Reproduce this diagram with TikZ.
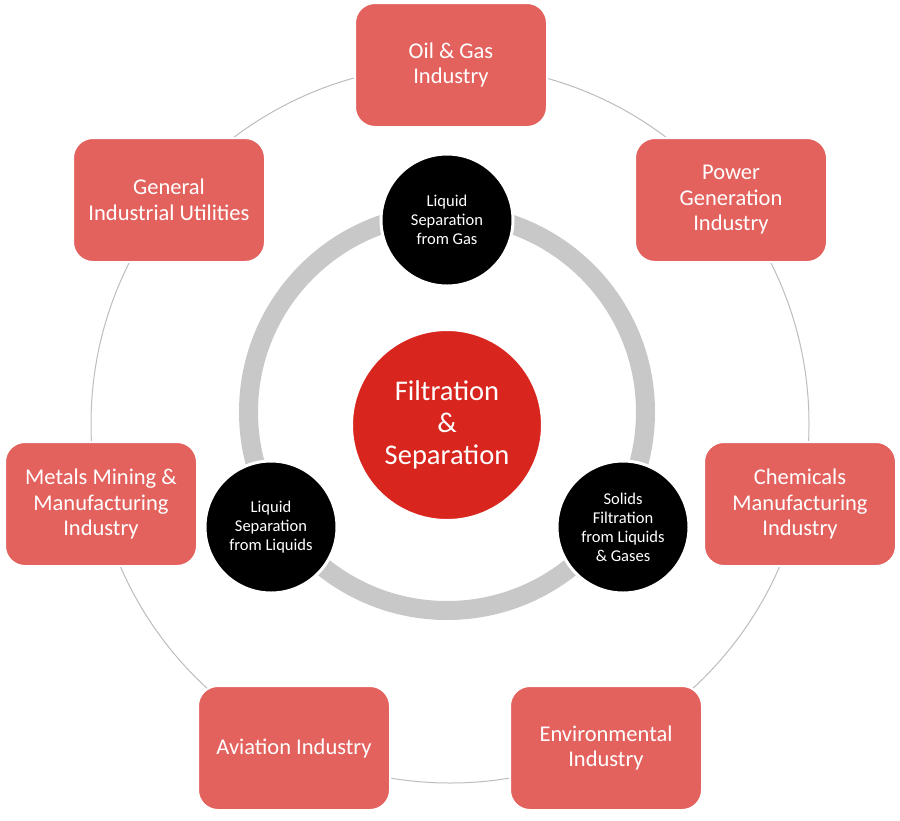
\documentclass[tikz,border=0pt]{standalone}
\usepackage{fontspec}
\setmainfont{Carlito}
\usetikzlibrary{positioning}
\definecolor{boxred}{HTML}{E3625E}
\definecolor{corered}{HTML}{D8261E}
\definecolor{ringgray}{HTML}{C8C8C8}
\definecolor{linegray}{HTML}{BDBDBD}

\begin{document}
\begin{tikzpicture}[x=1pt,y=-1pt,
    ind/.style={rectangle, rounded corners=20pt, fill=boxred, draw=white, line width=2pt,
      minimum width=192pt, minimum height=124pt, inner sep=0pt, align=center, text=white,
      font=\fontsize{22.5}{25.5}\selectfont},
    app/.style={circle, fill=black, draw=white, line width=3pt, minimum size=132pt,
      inner sep=0pt, align=center, text=white, font=\fontsize{16.5}{19}\selectfont},
    core/.style={circle, fill=corered, draw=white, line width=2pt, minimum size=190pt,
      inner sep=0pt, align=center, text=white, font=\fontsize{28.5}{32}\selectfont}]
  \useasboundingbox[fill=white] (0,0) rectangle (900,820);
  \draw[linegray, line width=1pt] (450,424) circle[radius=359pt];
  \draw[ringgray, line width=19pt] (447,412) circle[radius=198.5pt];

  \node[ind] (oil)      at (451,65)  {Oil \& Gas\\Industry};
  \node[ind] (general)  at (169,200) {General\\Industrial Utilities};
  \node[ind] (power)    at (731,200) {Power\\Generation\\Industry};
  \node[ind] (metals)   at (101,504) {Metals Mining \&\\Manufacturing\\Industry};
  \node[ind] (chem)     at (800,504) {Chemicals\\Manufacturing\\Industry};
  \node[ind] (aviation) at (294,748) {Aviation Industry};
  \node[ind] (enviro)   at (606,748) {Environmental\\Industry};

  \node[app] (gas)     at (447,220) {Liquid\\Separation\\from Gas};
  \node[app] (liquids) at (271,527) {Liquid\\Separation\\from Liquids};
  \node[app] (solids)  at (623,527) {Solids\\Filtration\\from Liquids\\\& Gases};

  \node[core] (core) at (447,425) {Filtration\\\&\\Separation};
\end{tikzpicture}
\end{document}
